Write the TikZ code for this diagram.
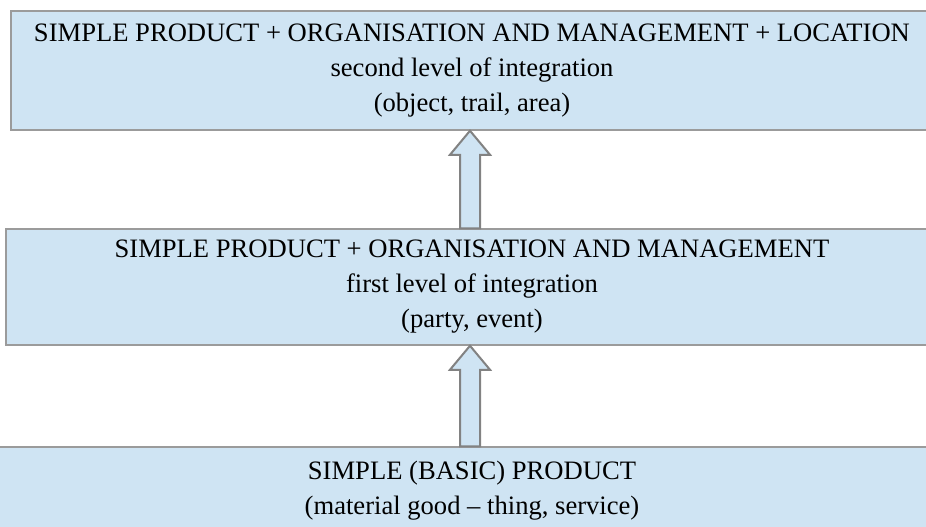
\documentclass[tikz,border=0pt]{standalone}
\usepackage{fontspec}
\setmainfont{Liberation Serif}

\definecolor{boxblue}{RGB}{207,228,243}
\definecolor{edgegray}{RGB}{155,155,155}
\definecolor{arrowgray}{RGB}{130,130,130}

\tikzset{
  level/.style={draw=edgegray, line width=1.5pt, fill=boxblue, align=center,
    inner sep=0pt, font=\fontsize{26.6}{35}\selectfont},
  blockarrow/.style={draw=arrowgray, line width=2pt, fill=boxblue, line join=miter}
}

\begin{document}
\begin{tikzpicture}[x=1pt,y=-1pt]
\useasboundingbox (0,0) rectangle (926,527);

% the three levels
\node[level, minimum width=922pt, minimum height=119pt] (second) at (472,70.5)
  {SIMPLE PRODUCT + ORGANISATION AND MANAGEMENT + LOCATION\\
   second level of integration\\
   (object, trail, area)};
\node[level, minimum width=932pt, minimum height=116pt] (first) at (472,287)
  {SIMPLE PRODUCT + ORGANISATION AND MANAGEMENT\\
   first level of integration\\
   (party, event)};
\node[level, minimum width=950pt, minimum height=88pt] (basic) at (472,491)
  {SIMPLE (BASIC) PRODUCT\\
   (material good -- thing, service)};

% hollow arrows between levels
\coordinate (ax) at (470,0);
\foreach \lo/\hi in {first/second, basic/first} {
  \coordinate (tip) at (\hi.south -| ax);
  \coordinate (foot) at (\lo.north -| ax);
  \draw[blockarrow] ([xshift=-10pt]foot) -- ([xshift=-10pt,yshift=-24pt]tip)
    -- ([xshift=-20pt,yshift=-24pt]tip) -- (tip)
    -- ([xshift=20pt,yshift=-24pt]tip) -- ([xshift=10pt,yshift=-24pt]tip)
    -- ([xshift=10pt]foot) -- cycle;
}

\end{tikzpicture}
\end{document}
